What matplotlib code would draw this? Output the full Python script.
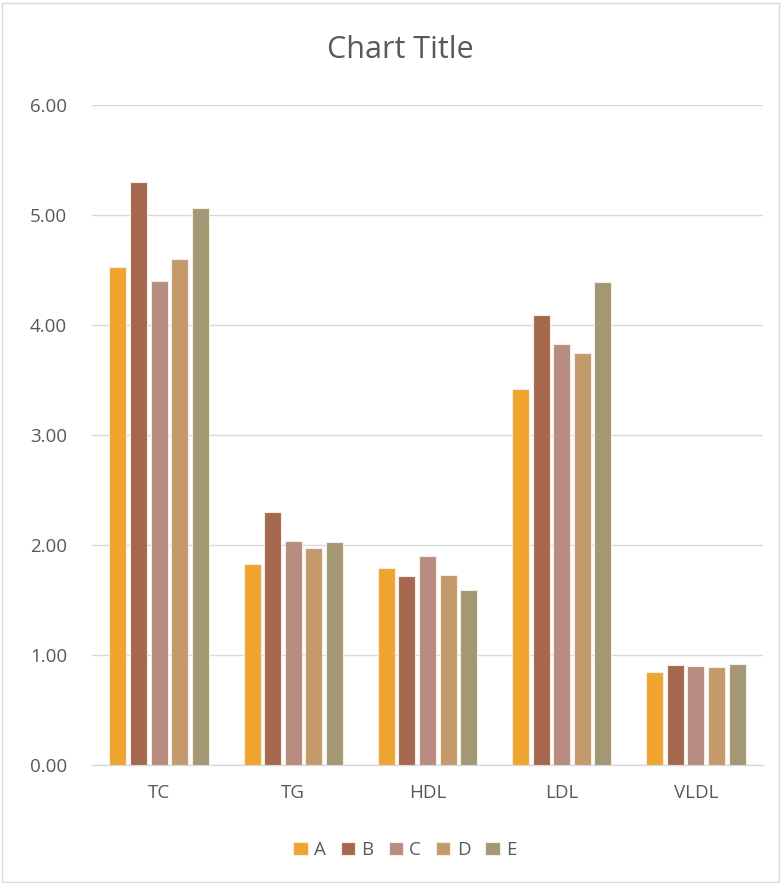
import matplotlib
matplotlib.use("Agg")
import matplotlib.pyplot as plt
import numpy as np
from matplotlib.patches import Rectangle

categories = ["TC", "TG", "HDL", "LDL", "VLDL"]
series_names = ["A", "B", "C", "D", "E"]
A = [4.53, 1.83, 1.79, 3.42, 0.85]
B = [5.30, 2.30, 1.72, 4.09, 0.91]
C = [4.40, 2.04, 1.90, 3.83, 0.90]
D = [4.60, 1.97, 1.73, 3.75, 0.89]
E = [5.06, 2.03, 1.59, 4.39, 0.92]
yticks = [0, 1, 2, 3, 4, 5, 6]

colors = ["#F0A430", "#A5684F", "#B88C81", "#C49A6C", "#A39873"]
plt.rcParams["font.family"] = ["Open Sans", "DejaVu Sans"]

W, H = 781, 883
fig = plt.figure(figsize=(W / 100, H / 100), dpi=100)
ax = fig.add_axes([92 / W, 1 - 765 / H, (763 - 92) / W, (765 - 105) / H])

x = np.arange(len(categories))
slot = 0.1535
bw = 0.127
for i, (name, vals) in enumerate(zip(series_names, [A, B, C, D, E])):
    ax.bar(x + (i - 2) * slot, vals, width=bw, color=colors[i], label=name,
           edgecolor="#F4EDE6", linewidth=0.8, zorder=3)

ax.set_xlim(-0.5, len(categories) - 0.5)
ax.set_ylim(0, 6)
ax.set_yticks(yticks)
ax.set_yticklabels([f"{v:.2f}" for v in yticks])
ax.set_xticks(x)
ax.set_xticklabels(categories)
ax.tick_params(axis="both", length=0, labelsize=13.5, colors="#595959")
ax.tick_params(axis="y", pad=18)
ax.tick_params(axis="x", pad=14)
ax.grid(axis="y", color="#D9D9D9", linewidth=1, zorder=0)
for s in ["top", "right", "left"]:
    ax.spines[s].set_visible(False)
ax.spines["bottom"].set_color("#D9D9D9")
ax.spines["bottom"].set_linewidth(1)

fig.text(400 / W, 1 - 50 / H, "Chart Title", ha="center", va="center",
         fontsize=22, color="#595959")

leg = fig.legend(loc="center", bbox_to_anchor=(405 / W, 1 - 850 / H), ncol=5,
                 frameon=False, fontsize=13.5, handlelength=0.75, handleheight=0.75,
                 handletextpad=0.35, columnspacing=0.8, labelcolor="#595959")

fig.add_artist(Rectangle((1.5 / W, 1.5 / H), (W - 4) / W, (H - 4) / H,
                         transform=fig.transFigure, fill=False,
                         edgecolor="#D9D9D9", linewidth=1))

fig.savefig("out.png", dpi=100, facecolor="white")
